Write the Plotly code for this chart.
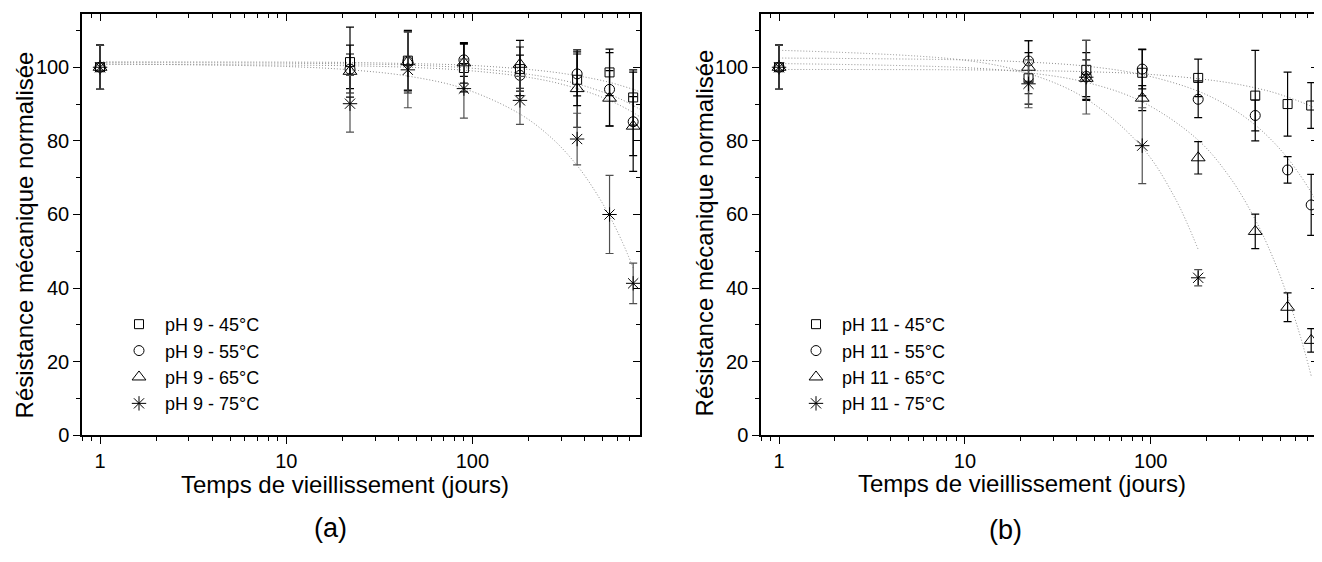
import plotly.graph_objects as go

# page is rendered with the browser's default 8px body margin -> compensate
PAGE_W, PAGE_H = 1322, 562
OFF = 8
W, H = PAGE_W - OFF, PAGE_H - OFF

def px(x):
    return (x - OFF) / W

def py(y):
    return 1 - (y - OFF) / H

# ---------------- data ----------------
days = [1, 22, 45, 90, 180, 365, 545, 730]
days_ph11_75 = [1, 22, 45, 90, 180]

# pH 9 (panel a)
ph9_45 = [100, 101.4, 101.8, 99.8, 99.5, 96.6, 98.6, 91.8]
ph9_45_err = [6, 9.5, 8, 6.5, 6, 7, 6.3, 7.5]
ph9_55 = [100, 99.5, 101.6, 102.0, 97.8, 98.2, 94.0, 85.2]
ph9_55_err = [6, 6.5, 8, 4.5, 5.5, 6, 10, 13.5]
ph9_65 = [100, 98.9, 101.5, 101.2, 100.8, 94.2, 91.6, 84.0]
ph9_65_err = [6, 4.7, 8.5, 5.5, 6.5, 10.5, 7.5, 8]
ph9_75 = [100, 90.1, 99.3, 94.2, 91.0, 80.5, 60.0, 41.3]
ph9_75_err = [6, 7.7, 10.3, 8, 6.5, 7, 10.6, 5.5]

# pH 11 (panel b)
ph11_45 = [100, 97.0, 99.3, 98.5, 97.1, 92.3, 90.0, 89.6]
ph11_45_err = [6, 7, 8, 6.3, 5.1, 12.3, 8.7, 6.2]
ph11_55 = [100, 101.7, 97.5, 99.5, 91.3, 86.9, 72.1, 62.6]
ph11_55_err = [6, 5.5, 6.5, 5.4, 5, 4.2, 3.6, 8.3]
ph11_65 = [100, 100.0, 97.0, 91.6, 75.4, 55.4, 34.8, 25.8]
ph11_65_err = [6, 7.2, 5, 3.4, 4.4, 4.7, 3.9, 3.2]
ph11_75 = [100, 95.5, 97.3, 78.7, 42.8]
ph11_75_err = [6, 6.5, 10, 10.3, 2.2]

# fitted trend curves (dotted)
fit_days = [1, 10, 22, 45, 90, 180, 270, 365, 455, 545, 640, 730, 800]
fit9_45 = [101.5, 101.4, 101.3, 101.0, 100.6, 99.6, 98.7, 97.7, 96.8, 95.9, 94.9, 94.0, 93.3]
fit9_55 = [101.3, 101.1, 100.9, 100.6, 99.9, 98.4, 97.0, 95.5, 94.0, 92.6, 91.1, 89.6, 88.5]
fit9_65 = [100.8, 100.6, 100.4, 100.0, 99.2, 97.6, 96.0, 94.2, 92.6, 91.0, 89.3, 87.7, 86.4]
fit9_75_days = [1, 10, 22, 45, 90, 180, 270, 365, 455, 545, 640, 730]
fit9_75 = [100.9, 100.2, 99.3, 97.6, 94.2, 87.3, 80.5, 73.3, 66.4, 59.6, 52.4, 45.5]

fit11_45 = [99.4, 99.3, 99.1, 98.8, 98.2, 96.9, 95.7, 94.4, 93.2, 91.9, 90.6, 89.4, 88.4]
fit11_55 = [102.5, 102.0, 101.4, 100.3, 98.0, 93.5, 89.0, 84.3, 79.8, 75.3, 70.5, 66.0, 62.5]
fit11_65_days = [1, 10, 22, 45, 90, 180, 270, 365, 455, 545, 640, 730]
fit11_65 = [101.0, 99.9, 98.5, 95.9, 90.6, 80.2, 69.7, 58.6, 48.2, 37.7, 26.7, 16.2]
fit11_75_days = [1, 10, 22, 45, 90, 135, 180]
fit11_75 = [104.6, 101.9, 98.3, 91.4, 78.2, 64.5, 50.5]

x_tickvals = [1, 10, 100]
x_minor = [0.8, 0.9, 2, 3, 4, 5, 6, 7, 8, 9, 20, 30, 40, 50, 60, 70, 80, 90,
           200, 300, 400, 500, 600, 700, 800]
y_tickvals = [0, 20, 40, 60, 80, 100]
y_minor = [10, 30, 50, 70, 90, 110]

# ---------------- styling ----------------
FONT = "Liberation Sans, Arial, sans-serif"
symbols = ["square-open", "circle-open", "triangle-up-open", "asterisk-open"]
sizes = [9, 10, 12, 12]
bar_colors = ["black", "black", "black", "#505050"]
fit_color = "#8c8c8c"

fig = go.Figure()

def add_fit(x, y, xa, ya):
    fig.add_trace(go.Scatter(x=x, y=y, mode="lines", xaxis=xa, yaxis=ya,
                             line=dict(color=fit_color, width=1, dash="1px,2px", shape="spline"),
                             showlegend=False, hoverinfo="skip"))

def add_series(x, y, err, name, i, xa, ya, legend):
    fig.add_trace(go.Scatter(
        x=x, y=y, mode="markers", name=name, xaxis=xa, yaxis=ya, legend=legend,
        marker=dict(symbol=symbols[i], size=sizes[i], color="black",
                    line=dict(color="black", width=1)),
        error_y=dict(type="data", array=err, visible=True, color=bar_colors[i],
                     thickness=1.2, width=4),
    ))

# panel a
add_fit(fit_days, fit9_45, "x", "y")
add_fit(fit_days, fit9_55, "x", "y")
add_fit(fit_days, fit9_65, "x", "y")
add_fit(fit9_75_days, fit9_75, "x", "y")
for i, (yy, ee, nm) in enumerate([(ph9_45, ph9_45_err, "pH 9 - 45°C"),
                                  (ph9_55, ph9_55_err, "pH 9 - 55°C"),
                                  (ph9_65, ph9_65_err, "pH 9 - 65°C"),
                                  (ph9_75, ph9_75_err, "pH 9 - 75°C")]):
    add_series(days, yy, ee, nm, i, "x", "y", "legend")

# panel b
add_fit(fit_days, fit11_45, "x2", "y2")
add_fit(fit_days, fit11_55, "x2", "y2")
add_fit(fit11_65_days, fit11_65, "x2", "y2")
add_fit(fit11_75_days, fit11_75, "x2", "y2")
for i, (xx, yy, ee, nm) in enumerate([(days, ph11_45, ph11_45_err, "pH 11 - 45°C"),
                                      (days, ph11_55, ph11_55_err, "pH 11 - 55°C"),
                                      (days, ph11_65, ph11_65_err, "pH 11 - 65°C"),
                                      (days_ph11_75, ph11_75, ph11_75_err, "pH 11 - 75°C")]):
    add_series(xx, yy, ee, nm, i, "x2", "y2", "legend2")

# invisible anchors so the mirrored (inward-tick) frame axes get drawn
fig.add_trace(go.Scatter(x=[1], y=[0], xaxis="x3", yaxis="y3", mode="markers",
                         marker=dict(opacity=0), showlegend=False, hoverinfo="skip"))
fig.add_trace(go.Scatter(x=[1], y=[0], xaxis="x4", yaxis="y4", mode="markers",
                         marker=dict(opacity=0), showlegend=False, hoverinfo="skip"))

XR = [-0.097, 2.90]
YR = [0, 114.5]
LW = 1.5
TICKFONT = dict(family=FONT, size=20, color="black")

def xaxis(domain, side="bottom", overlay=None, anchor=None, labels=True):
    inside = side != "bottom"
    d = dict(type="log", range=XR, side=side, showline=True, linecolor="black", linewidth=LW,
             showgrid=False, zeroline=False, tickmode="array", tickvals=x_tickvals,
             ticktext=[str(v) for v in x_tickvals], showticklabels=labels,
             ticks="inside" if inside else "outside", ticklen=7, tickwidth=1.3,
             tickcolor="black", tickfont=TICKFONT,
             minor=dict(tickmode="array", tickvals=x_minor, ticklen=4, tickwidth=1.2,
                        tickcolor="black", ticks="inside" if inside else "outside",
                        showgrid=False),
             fixedrange=True)
    if overlay:
        d["overlaying"] = overlay
    else:
        d["domain"] = domain
    if anchor:
        d["anchor"] = anchor
    return d

def yaxis(domain, side="left", overlay=None, anchor=None, labels=True):
    inside = side != "left"
    d = dict(range=YR, side=side, showline=True, linecolor="black", linewidth=LW,
             showgrid=False, zeroline=False, tickmode="array", tickvals=y_tickvals,
             showticklabels=labels,
             ticks="inside" if inside else "outside", ticklen=7, tickwidth=1.3,
             tickcolor="black", tickfont=TICKFONT,
             minor=dict(tickmode="array", tickvals=y_minor, ticklen=4, tickwidth=1.2,
                        tickcolor="black", ticks="inside" if inside else "outside",
                        showgrid=False),
             fixedrange=True)
    if overlay:
        d["overlaying"] = overlay
    else:
        d["domain"] = domain
    if anchor:
        d["anchor"] = anchor
    return d

# page-pixel geometry of the two plot frames
TOP, BOTTOM = 14, 444
ydom = [py(BOTTOM), py(TOP)]
xdomA = [px(82), px(640)]
xdomB = [px(761), px(1318)]

LEGFONT = dict(family=FONT, size=18, color="black")

fig.update_layout(
    width=W, height=H, margin=dict(l=0, r=0, t=0, b=0),
    paper_bgcolor="white", plot_bgcolor="white",
    font=dict(family=FONT, color="black"),
    xaxis=xaxis(xdomA, anchor="y"),
    yaxis=yaxis(ydom, anchor="x"),
    xaxis2=xaxis(xdomB, anchor="y2"),
    yaxis2=yaxis(ydom, anchor="x2"),
    xaxis3=xaxis(None, side="top", overlay="x", anchor="y3", labels=False),
    yaxis3=yaxis(None, side="right", overlay="y", anchor="x3", labels=False),
    xaxis4=xaxis(None, side="top", overlay="x2", anchor="y4", labels=False),
    yaxis4=yaxis(None, side="right", overlay="y2", anchor="x4", labels=False),
    legend=dict(x=px(113), y=py(312), xanchor="left", yanchor="top",
                bgcolor="rgba(0,0,0,0)", itemwidth=42, tracegroupgap=0, font=LEGFONT),
    legend2=dict(x=px(790), y=py(312), xanchor="left", yanchor="top",
                 bgcolor="rgba(0,0,0,0)", itemwidth=42, tracegroupgap=0, font=LEGFONT),
    showlegend=True,
)

ann = [
    dict(text="Résistance mécanique normalisée", x=24, y=240, textangle=-90, size=24),
    dict(text="Résistance mécanique normalisée", x=704, y=238, textangle=-90, size=24),
    dict(text="Temps de vieillissement (jours)", x=345, y=494, textangle=0, size=24),
    dict(text="Temps de vieillissement (jours)", x=1022, y=493, textangle=0, size=24),
    dict(text="(a)", x=330, y=539, textangle=0, size=27),
    dict(text="(b)", x=1005, y=541, textangle=0, size=27),
]
for a in ann:
    fig.add_annotation(text=a["text"], x=px(a["x"]), y=py(a["y"]), xref="paper", yref="paper",
                       xanchor="center", yanchor="middle", textangle=a["textangle"],
                       showarrow=False, font=dict(family=FONT, size=a["size"], color="black"))

fig.write_html("out.html")
